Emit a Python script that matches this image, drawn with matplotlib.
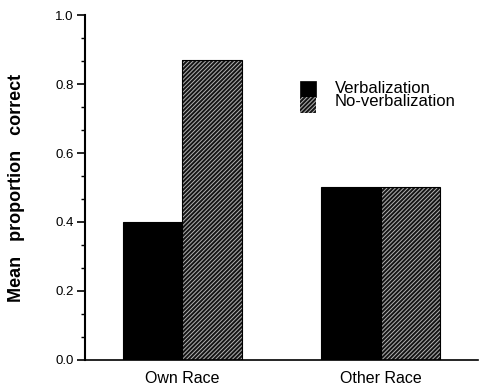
import numpy as np
import matplotlib
matplotlib.use('Agg')
from matplotlib import pyplot as plt
from matplotlib.patches import Rectangle
from matplotlib.ticker import MultipleLocator

plt.rcParams['font.family'] = ['Liberation Sans', 'DejaVu Sans']
plt.rcParams['hatch.linewidth'] = 0.7

# Data #
groups = ['Own Race', 'Other Race']
series = ['Verbalization', 'No-verbalization']
verbalization = [0.40, 0.50]
no_verbalization = [0.87, 0.50]

HATCH = '////////'
HATCH_FG = '#b4b4b4'
HATCH_BG = '#141414'

# Plot #
fig = plt.figure(figsize=(4.79, 3.89), dpi=100)
ax = fig.add_axes([0.1775, 0.0746, 0.8205, 0.8868])

x = np.arange(len(groups))
w = 0.30
ax.bar(x - w / 2, verbalization, w, color='black', edgecolor='black', linewidth=0.8)
ax.bar(x + w / 2, no_verbalization, w, color=HATCH_BG, edgecolor=HATCH_FG,
       hatch=HATCH, linewidth=0)
ax.bar(x + w / 2, no_verbalization, w, fill=False, edgecolor='black', linewidth=0.8)

ax.set_xlim(-0.49, 1.49)
ax.set_ylim(0, 1.0)
ax.set_xticks(x)
ax.set_xticklabels(groups, fontsize=11.5)
ax.tick_params(axis='x', length=0, pad=8)
ax.yaxis.set_major_locator(MultipleLocator(0.2))
ax.yaxis.set_minor_locator(MultipleLocator(0.2 / 3))
ax.yaxis.set_major_formatter(matplotlib.ticker.FormatStrFormatter('%.1f'))
ax.tick_params(axis='y', which='major', length=6, width=1.2, labelsize=9.5, pad=2)
ax.tick_params(axis='y', which='minor', length=3, width=1.0)
for s in ['top', 'right']:
    ax.spines[s].set_visible(False)
ax.spines['left'].set_linewidth(1.5)
ax.spines['bottom'].set_linewidth(1.2)

ax.set_ylabel('Mean   proportion   correct', fontsize=13, fontweight='bold',
              labelpad=22)

# Legend #
ax.add_patch(Rectangle((0.547, 0.763), 0.041, 0.047, transform=ax.transAxes,
                       facecolor='black', edgecolor='black', linewidth=0.5))
ax.add_patch(Rectangle((0.547, 0.716), 0.041, 0.047, transform=ax.transAxes,
                       facecolor=HATCH_BG, edgecolor=HATCH_FG, hatch=HATCH,
                       linewidth=0))
ax.text(0.636, 0.788, series[0], transform=ax.transAxes, fontsize=12, va='center')
ax.text(0.636, 0.748, series[1], transform=ax.transAxes, fontsize=12, va='center')

fig.savefig('out.png', dpi=100)
